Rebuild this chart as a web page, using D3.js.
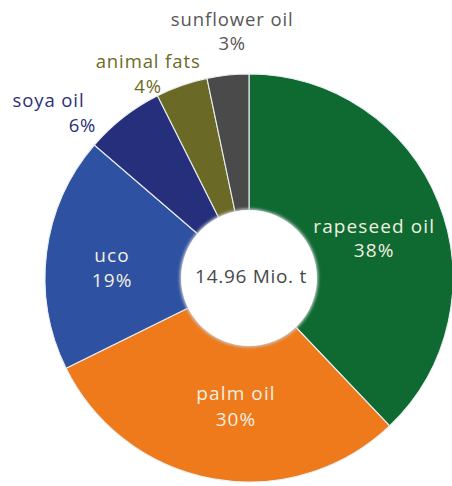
<!DOCTYPE html>
<html>
<head>
<meta charset="utf-8">
<script src="https://cdn.jsdelivr.net/npm/d3@7"></script>
<style>
  html, body { margin: 0; padding: 0; background: #ffffff; }
  svg { display: block; }
  text { font-family: "Open Sans", "Noto Sans", sans-serif; }
</style>
</head>
<body>
<svg id="chart" width="452" height="486"></svg>
<script>
// ---- data ----
const categories = ["rapeseed oil", "palm oil", "uco", "soya oil", "animal fats", "sunflower oil"];
const shareValues = [37.9, 29.8, 18.6, 6.3, 4.1, 3.3];   // slice sizes
const shareLabels = ["38%", "30%", "19%", "6%", "4%", "3%"];
const totalLabel = "14.96 Mio. t";

// ---- styling / layout ----
const sliceColors = ["#0e6a31", "#ee7a1b", "#2e51a2", "#252f7c", "#6a6a26", "#4a4a4b"];
const inside = [true, true, true, false, false, false];
const outsideLabelColors = { 3: "#2b2f78", 4: "#6b6a25", 5: "#575757" };
// line offsets relative to label anchor (centroid)
const labelOffsets = [
  [[-2, 6], [-2, 30]],
  [[11, -13], [11, 13]],
  [[-1, 1], [-1, 26]],
  [[-59, 10], [-25, 35]],
  [[-25, 7], [-25, 32]],
  [[7, -23], [7, 1]]
];

const cx = 249, cy = 278;
const R = 204, r0 = 68;

const svg = d3.select("#chart");
const defs = svg.append("defs");
const f = defs.append("filter").attr("id", "hs").attr("x", "-20%").attr("y", "-20%").attr("width", "140%").attr("height", "140%");
f.append("feGaussianBlur").attr("stdDeviation", 1.6);

const g = svg.append("g").attr("transform", `translate(${cx},${cy})`);

const data = categories.map((c, i) => ({ name: c, value: shareValues[i], label: shareLabels[i], i }));
const pie = d3.pie().sort(null).value(d => d.value);
const arcs = pie(data);

const arc = d3.arc().innerRadius(0).outerRadius(R);
g.selectAll("path.slice").data(arcs).join("path")
  .attr("class", "slice")
  .attr("d", arc)
  .attr("fill", d => sliceColors[d.data.i])
  .attr("stroke", "#e9eef0")
  .attr("stroke-width", 1.1);

// hole with faint shadow
g.append("circle").attr("r", r0 + 1.2).attr("fill", "#c9ccd0").attr("filter", "url(#hs)");
g.append("circle").attr("r", r0).attr("fill", "#ffffff");

g.append("text")
  .attr("x", 2).attr("y", 5)
  .attr("text-anchor", "middle")
  .attr("font-size", 19)
  .attr("font-weight", 500)
  .attr("letter-spacing", 0.7)
  .attr("fill", "#46484b")
  .text(totalLabel);

const innerArc = d3.arc().innerRadius(137).outerRadius(137);
const outerArc = d3.arc().innerRadius(230).outerRadius(230);

arcs.forEach(d => {
  const i = d.data.i;
  const c = inside[i] ? innerArc.centroid(d) : outerArc.centroid(d);
  const lines = [d.data.name, d.data.label];
  const fill = inside[i] ? "#f2efe0" : outsideLabelColors[i];
  lines.forEach((t, k) => {
    g.append("text")
      .attr("x", c[0] + labelOffsets[i][k][0])
      .attr("y", c[1] + labelOffsets[i][k][1])
      .attr("text-anchor", "middle")
      .attr("font-size", inside[i] ? 19 : 18.5)
      .attr("font-weight", 500)
      .attr("letter-spacing", inside[i] ? 1.1 : 0.9)
      .attr("fill", fill)
      .text(t);
  });
});
</script>
</body>
</html>
